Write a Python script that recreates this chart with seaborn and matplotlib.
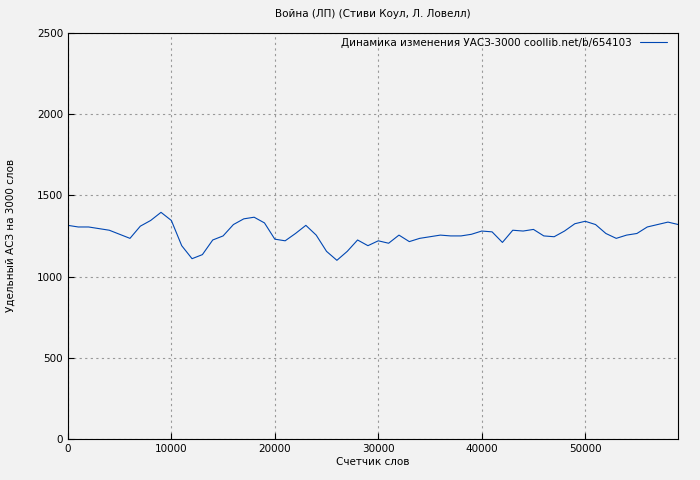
import matplotlib
matplotlib.use("Agg")
import matplotlib.pyplot as plt
import seaborn as sns
import pandas as pd

words = list(range(0, 60000, 1000))
values = [1315,1305,1305,1295,1285,1260,1235,1310,1345,1395,1345,1190,1110,1135,1225,1250,1320,1355,1365,1330,
          1230,1220,1265,1315,1255,1155,1100,1155,1225,1190,1220,1205,1255,1215,1235,1245,1255,1250,1250,1260,
          1280,1275,1210,1285,1280,1290,1250,1245,1280,1325,1340,1320,1265,1235,1255,1265,1305,1320,1335,1320]
label = "Динамика изменения УАСЗ-3000 coollib.net/b/654103"

sns.set_style("ticks")
plt.rcParams['font.family'] = ['DejaVu Sans']
plt.rcParams['text.color'] = 'black'
fig = plt.figure(figsize=(7, 4.8), dpi=100, facecolor="#f2f2f2")
ax = fig.add_axes([0.097, 0.085, 0.872, 0.847])
ax.set_facecolor("#f2f2f2")
df = pd.DataFrame({"x": words, "y": values})
sns.lineplot(data=df, x="x", y="y", ax=ax, color="#0047b3", linewidth=0.8, label=label)
ax.set_xlim(0, 59000)
ax.set_ylim(0, 2500)
ax.set_xticks(range(0, 60000, 10000))
ax.set_yticks(range(0, 2501, 500))
ax.grid(True, color="#999999", linestyle=(0, (2, 3)), linewidth=0.8)
for s in ax.spines.values():
    s.set_color("black")
ax.tick_params(labelsize=7.5, direction="in", length=4, colors="black")
ax.set_xlabel("Счетчик слов", fontsize=7.5, labelpad=2, color="black")
ax.set_ylabel("Удельный АСЗ на 3000 слов", fontsize=7.5, color="black")
ax.yaxis.set_label_coords(-0.085, 0.5)
ax.set_title("Война (ЛП) (Стиви Коул, Л. Ловелл)", fontsize=7.5, pad=11, color="black")
leg = ax.legend(loc="upper right", fontsize=7.5, frameon=False, markerfirst=False, handlelength=2.6,
                borderaxespad=0.1, bbox_to_anchor=(0.99, 1.0))
fig.savefig("out.png", dpi=100, facecolor=fig.get_facecolor())
